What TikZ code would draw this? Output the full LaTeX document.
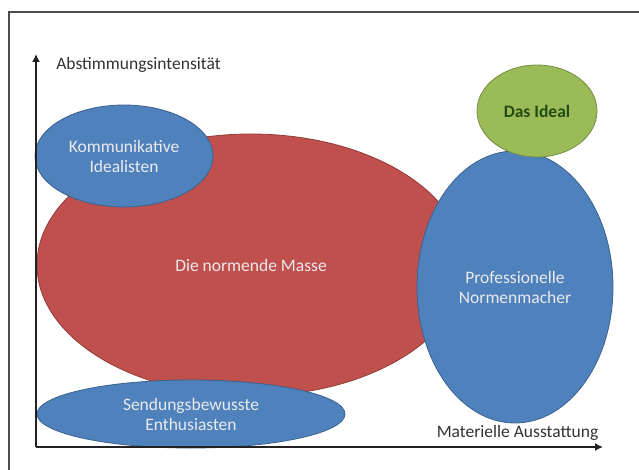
\documentclass[tikz,border=0pt]{standalone}
\usepackage{fontspec}
\setmainfont{Carlito}
\usetikzlibrary{shapes.geometric,arrows.meta}
\definecolor{oblue}{HTML}{4F81BD}
\definecolor{ored}{HTML}{C0504D}
\definecolor{ogreen}{HTML}{9BBB59}
\definecolor{idealtext}{HTML}{264A14}
\definecolor{axiscol}{HTML}{222222}
\definecolor{labcol}{HTML}{333333}
\begin{document}
\begin{tikzpicture}[x=1pt,y=-1pt,
  blob/.style={ellipse, fill=#1, draw=#1!75!black, line width=0.8pt, inner sep=0pt,
    text=white!92!black, align=center, font=\fontsize{17.5}{20}\selectfont},
  axislabel/.style={inner sep=0pt, text=labcol, font=\fontsize{17.5}{20}\selectfont},
  axisline/.style={draw=axiscol, line width=1.5pt, -{Latex[length=8pt,width=8pt]}},
  framecol/.style={draw=black!70, line width=1.3pt}
]
\useasboundingbox (0,0) rectangle (639,470);
% frame
\draw[framecol] (9,471) -- (9,12) -- (640,12);
% ellipses
\node[blob=ored, minimum width=428pt, minimum height=262pt] (masse) at (251,265) {Die normende Masse};
\node[blob=oblue, minimum width=178pt, minimum height=102pt] (kom) at (124,156) {Kommunikative\\Idealisten};
\node[blob=oblue, minimum width=308pt, minimum height=68pt] (send) at (191,414) {Sendungsbewusste\\Enthusiasten};
\node[blob=oblue, minimum width=196pt, minimum height=272pt] (prof) at (515,287) {Professionelle\\Normenmacher};
\node[blob=ogreen, minimum width=120pt, minimum height=92pt, text=idealtext, font=\fontsize{17.5}{20}\selectfont\bfseries] (ideal) at (537,111) {Das Ideal};
% axes
\coordinate (origin) at (36,447);
\coordinate (ytip) at (36,54);
\coordinate (xtip) at (603,447);
\draw[axisline] (origin) -- (ytip);
\draw[axisline] (origin) -- (xtip);
\node[axislabel] (ylab) at (138.5,65) {Abstimmungsintensität};
\node[axislabel] (xlab) at (517.5,433) {Materielle Ausstattung};
\end{tikzpicture}
\end{document}
